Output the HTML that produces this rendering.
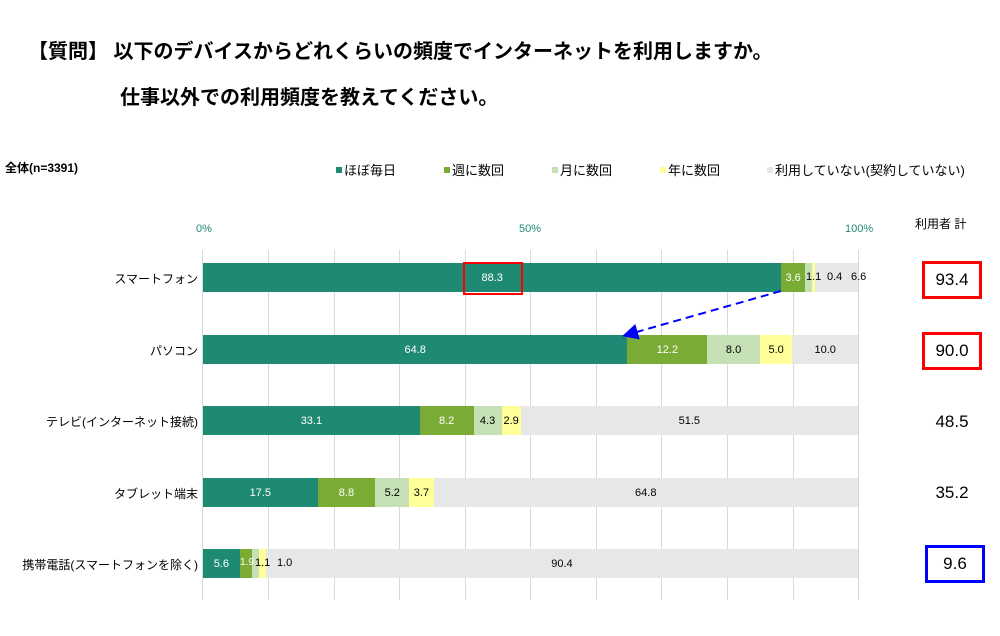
<!DOCTYPE html>
<html><head><meta charset="utf-8"><style>
body{margin:0;width:1000px;height:636px;background:#fff;position:relative;overflow:hidden;font-family:"Liberation Sans","Noto Sans CJK JP",sans-serif;}
.a{position:absolute;white-space:nowrap;}
.t{font-size:20px;font-weight:bold;color:#000;}
.g{position:absolute;top:250px;height:350px;width:1px;background:#d9d9d9;}
.bar{position:absolute;left:203px;width:655px;height:29px;display:flex;}
.bar div{height:100%;display:flex;align-items:center;justify-content:center;font-size:11px;overflow:visible;white-space:nowrap;}
.c1{background:#1f8a73;color:#fff}.c2{background:#7aab35;color:#fff}.c3{background:#c5e0b4}.c4{background:#ffff99}.c5{background:#e7e7e7}
.cat{position:absolute;right:802px;font-size:12px;}
.tot{position:absolute;left:920px;width:60px;height:35px;line-height:35px;text-align:center;font-size:17px;}
.lab{position:absolute;font-size:11px;}
.leg{position:absolute;top:160px;font-size:13px;}
.leg span{display:inline-block;width:6px;height:6px;margin-right:2px;vertical-align:2px;}
</style></head><body>
<div class="a t" style="left:28px;top:35px">【質問】 以下のデバイスからどれくらいの頻度でインターネットを利用しますか。</div>
<div class="a t" style="left:120px;top:81px">仕事以外での利用頻度を教えてください。</div>
<div class="a" style="left:5px;top:159px;font-size:12px;font-weight:bold">全体(n=3391)</div>
<div class="leg" style="left:336px"><span style="background:#1f8a73"></span>ほぼ毎日</div>
<div class="leg" style="left:444px"><span style="background:#7aab35"></span>週に数回</div>
<div class="leg" style="left:552px"><span style="background:#c5e0b4"></span>月に数回</div>
<div class="leg" style="left:660px"><span style="background:#ffff99"></span>年に数回</div>
<div class="leg" style="left:767px"><span style="background:#e7e7e7"></span>利用していない(契約していない)</div>
<div class="a" style="left:196px;top:223px;font-size:11px;color:#1f8a73">0%</div>
<div class="a" style="left:519px;top:223px;font-size:11px;color:#1f8a73">50%</div>
<div class="a" style="left:845px;top:223px;font-size:11px;color:#1f8a73">100%</div>
<div class="a" style="left:915px;top:215px;font-size:12px">利用者 計</div>
<div class="g" style="left:202px"></div><div class="g" style="left:268px"></div><div class="g" style="left:334px"></div><div class="g" style="left:399px"></div><div class="g" style="left:465px"></div><div class="g" style="left:530px"></div><div class="g" style="left:596px"></div><div class="g" style="left:661px"></div><div class="g" style="left:727px"></div><div class="g" style="left:793px"></div><div class="g" style="left:858px"></div>

<div class="bar" style="top:263px"><div class="c1" style="width:88.3%">88.3</div><div class="c2" style="width:3.6%">3.6</div><div class="c3" style="width:1.1%"></div><div class="c4" style="width:0.4%"></div><div class="c5" style="width:6.6%"></div></div>
<div class="lab" style="left:806px;top:271px">1.1</div><div class="lab" style="left:827px;top:271px">0.4</div><div class="lab" style="left:851px;top:271px">6.6</div>

<div class="bar" style="top:335px"><div class="c1" style="width:64.8%">64.8</div><div class="c2" style="width:12.2%">12.2</div><div class="c3" style="width:8%">8.0</div><div class="c4" style="width:5%">5.0</div><div class="c5" style="width:10%">10.0</div></div>
<div class="bar" style="top:406px"><div class="c1" style="width:33.1%">33.1</div><div class="c2" style="width:8.2%">8.2</div><div class="c3" style="width:4.3%">4.3</div><div class="c4" style="width:2.9%">2.9</div><div class="c5" style="width:51.5%">51.5</div></div>
<div class="bar" style="top:478px"><div class="c1" style="width:17.5%">17.5</div><div class="c2" style="width:8.8%">8.8</div><div class="c3" style="width:5.2%">5.2</div><div class="c4" style="width:3.7%">3.7</div><div class="c5" style="width:64.8%">64.8</div></div>
<div class="bar" style="top:549px"><div class="c1" style="width:5.6%">5.6</div><div class="c2" style="width:1.9%"></div><div class="c3" style="width:1.1%"></div><div class="c4" style="width:1%"></div><div class="c5" style="width:90.4%">90.4</div></div>
<div class="lab" style="left:240px;top:557px;color:#fff;font-size:10px">1.9</div>
<div class="lab" style="left:255px;top:557px">1.1</div><div class="lab" style="left:277px;top:557px">1.0</div>

<div class="cat" style="top:270px">スマートフォン</div>
<div class="cat" style="top:342px">パソコン</div>
<div class="cat" style="top:413px">テレビ(インターネット接続)</div>
<div class="cat" style="top:485px">タブレット端末</div>
<div class="cat" style="top:556px">携帯電話(スマートフォンを除く)</div>

<div class="tot" style="top:262px;left:922px">93.4</div>
<div class="tot" style="top:333px;left:922px">90.0</div>
<div class="tot" style="top:404px;left:922px">48.5</div>
<div class="tot" style="top:475px;left:922px">35.2</div>
<div class="tot" style="top:546px;left:925px">9.6</div>

<div class="a" style="left:922px;top:261px;width:54px;height:32px;border:3px solid #f00"></div>
<div class="a" style="left:922px;top:332px;width:54px;height:32px;border:3px solid #f00"></div>
<div class="a" style="left:925px;top:545px;width:54px;height:32px;border:3px solid #00f"></div>
<div class="a" style="left:463px;top:262px;width:56px;height:29px;border:2px solid #f00"></div>
<svg class="a" style="left:0;top:0" width="1000" height="636"><defs><marker id="m" markerWidth="8" markerHeight="8" refX="6" refY="4" orient="auto"><path d="M0,0L8,4L0,8z" fill="#0000ff"/></marker></defs><line x1="781" y1="291" x2="626" y2="335" stroke="#0000ff" stroke-width="2" stroke-dasharray="8,5" marker-end="url(#m)"/></svg>
</body></html>
